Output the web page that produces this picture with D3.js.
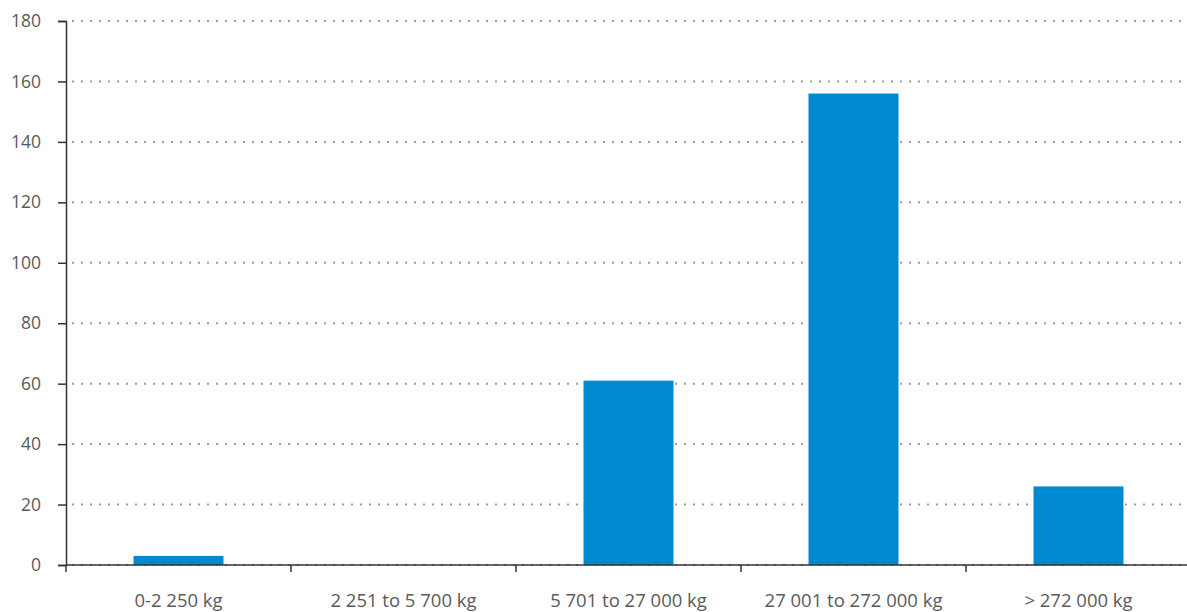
<!DOCTYPE html>
<html>
<head>
<meta charset="utf-8">
<script src="https://cdn.jsdelivr.net/npm/d3@7"></script>
<style>
  body { margin: 0; background: #fff; }
  svg { display: block; font-family: "Open Sans", sans-serif; }
</style>
</head>
<body>
<div id="chart"></div>
<script>
const categories = ['0-2 250 kg', '2 251 to 5 700 kg', '5 701 to 27 000 kg', '27 001 to 272 000 kg', '> 272 000 kg'];
const counts = [3, 0, 61, 156, 26];
const yTicks = [0, 20, 40, 60, 80, 100, 120, 140, 160, 180];

const W = 1187, H = 612;
const M = { top: 21, right: -4, bottom: 47, left: 66 };

const svg = d3.select('#chart').append('svg')
    .attr('width', W)
    .attr('height', H);

const x = d3.scaleBand()
    .domain(categories)
    .range([M.left, W - M.right])
    .paddingInner(0.6)
    .paddingOuter(0.3);

const y = d3.scaleLinear()
    .domain([0, 180])
    .range([H - M.bottom, M.top]);

// dotted gridlines
svg.append('g')
    .selectAll('line')
    .data(yTicks)
    .join('line')
    .attr('x1', M.left + 6)
    .attr('x2', W)
    .attr('y1', d => y(d))
    .attr('y2', d => y(d))
    .attr('stroke', '#9c9c9c')
    .attr('stroke-width', 2)
    .attr('stroke-dasharray', '2,7');

svg.append('g')
    .selectAll('rect')
    .data(counts)
    .join('rect')
    .attr('x', (d, i) => x(categories[i]))
    .attr('width', x.bandwidth())
    .attr('y', d => y(d))
    .attr('height', d => y(0) - y(d))
    .attr('fill', '#0088d1');

const yAxis = svg.append('g')
    .attr('transform', `translate(${M.left},0)`)
    .call(d3.axisLeft(y).tickValues(yTicks).tickSize(8).tickPadding(17));

// x axis with ticks at band edges
const xAxis = svg.append('g')
    .attr('transform', `translate(0,${y(0)})`);
xAxis.append('line')
    .attr('x1', M.left).attr('x2', W)
    .attr('stroke', '#333').attr('stroke-width', 1.5);
xAxis.selectAll('.edge')
    .data(categories)
    .join('line')
    .attr('class', 'edge')
    .attr('x1', d => x(d) - x.step() * 0.3)
    .attr('x2', d => x(d) - x.step() * 0.3)
    .attr('y1', 0).attr('y2', 7)
    .attr('stroke', '#333').attr('stroke-width', 1.5);
xAxis.selectAll('text')
    .data(categories)
    .join('text')
    .attr('x', d => x(d) + x.bandwidth() / 2)
    .attr('y', 42)
    .attr('text-anchor', 'middle')
    .attr('fill', '#5a5a5a')
    .attr('font-size', 18.5)
    .text(d => d);

yAxis.select('.domain').attr('stroke', '#333').attr('stroke-width', 1.5);
yAxis.selectAll('.tick line').attr('stroke', '#333').attr('stroke-width', 1.5);
yAxis.selectAll('.tick text')
    .attr('fill', '#5a5a5a')
    .attr('font-size', 17.5)
    .attr('font-family', '"Open Sans", sans-serif');
</script>
</body>
</html>
